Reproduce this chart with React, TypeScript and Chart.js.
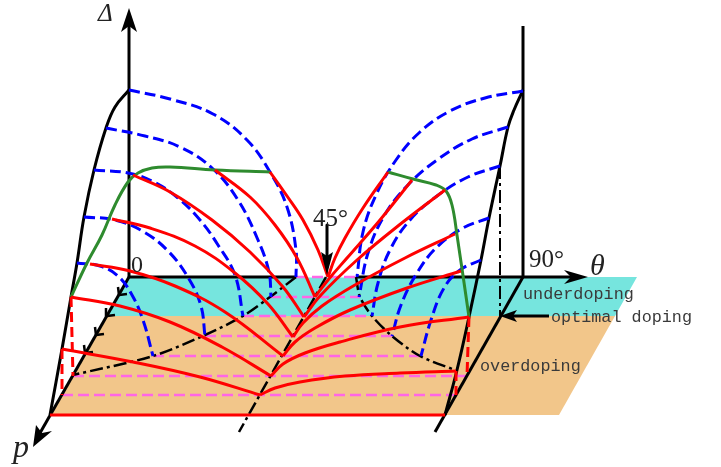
import React, { useEffect, useRef } from "react";
import { Chart, registerables } from "chart.js";

Chart.register(...registerables);

type P = [number, number];

const WIDTH = 721;
const HEIGHT = 467;

// Regions of the doping plane
const underdopingRegion: P[] = [[129, 277], [637, 277], [615, 316], [107, 316]];
const overdopingRegion: P[] = [[107, 316], [615, 316], [559, 415], [50, 415]];

// Axes
const deltaAxis: P[] = [[129, 277], [129, 26]];
const thetaAxisLeft: P[] = [[129, 277], [296, 277]];
const thetaAxisRight: P[] = [[356, 277], [572, 277]];
const thetaGapWhite: P[] = [[296, 276], [356, 276]];
const rightWall: P[] = [[523, 277], [523, 26]];
const pAxis: P[] = [[129, 277], [40, 433]];
const pAxisRight: P[] = [[523, 277], [435, 432]];
const arrow45: P[] = [[327, 225], [327, 258]];
const arrowOptimal: P[] = [[549, 316], [512, 316]];

// Arrow heads
const headDelta: P[] = [[129, 8], [137, 32], [129, 26], [121, 32]];
const headTheta: P[] = [[588, 277], [564, 284], [571, 277], [564, 270]];
const headP: P[] = [[33, 447], [36, 425], [42, 433], [52, 431]];
const head45: P[] = [[327, 275], [321, 252], [327, 256], [333, 252]];
const headOptimal: P[] = [[500, 316], [517, 310], [513, 316], [517, 322]];

// p-axis tick marks
const pTicks: P[][] = [
  [[127, 294], [119, 295], [118, 287]],
  [[115, 315], [107, 316], [106, 308]],
  [[104, 334], [96, 335], [95, 327]],
  [[93, 352], [85, 353], [84, 345]],
];

// Black envelope curves
const envelopeLeft: P[] = [[129, 90], [115, 107], [106, 128], [94, 170], [84, 217], [77, 263], [71, 297], [62, 349], [50, 415]];
const envelopeRight: P[] = [[523, 90], [514, 110], [508, 127], [500, 166], [489, 218], [481, 260], [469, 317], [457, 370], [445, 415]];

// Dash-dot guides
const guideCentre: P[] = [[326, 277], [239, 432]];
const guideLeft: P[] = [[296, 277], [270, 297], [243, 316], [205, 335], [153, 356], [73, 375]];
const guideRight: P[] = [[356, 277], [360, 297], [372, 316], [392, 336], [420, 356], [455, 370]];
const guideVertical: P[] = [[500, 166], [500, 316]];

// Magenta dashed lines
const magentaLines: P[][] = [
  [[296, 277], [356, 277]],
  [[270, 297], [360, 297]],
  [[243, 316], [372, 316]],
  [[205, 336], [392, 336]],
  [[153, 356], [420, 356]],
  [[73, 376], [467, 376]],
  [[62, 395], [456, 395]],
];

// Blue dashed arcs
const blueArcs: P[][] = [
  [[129, 90], [170, 99], [213, 114], [247, 140], [270, 172], [287, 207], [296, 250], [296, 277]],
  [[106, 128], [145, 136], [180, 147], [212, 168], [238, 200], [258, 240], [269, 272], [271, 297]],
  [[94, 170], [128, 173], [152, 181], [178, 198], [200, 220], [218, 245], [235, 275], [243, 316]],
  [[84, 217], [115, 220], [144, 232], [169, 252], [189, 279], [201, 306], [205, 336]],
  [[77, 263], [100, 266], [118, 276], [132, 295], [143, 320], [153, 356]],
  [[523, 91], [485, 98], [450, 111], [420, 132], [396, 160], [376, 195], [363, 232], [357, 277]],
  [[508, 127], [472, 139], [437, 160], [407, 186], [384, 216], [368, 253], [359, 297]],
  [[500, 166], [468, 177], [437, 196], [410, 220], [390, 250], [378, 283], [372, 316]],
  [[489, 218], [463, 228], [437, 247], [417, 273], [401, 305], [392, 336]],
  [[481, 260], [460, 270], [444, 288], [431, 320], [421, 356]],
];

// Red dashed verticals
const redDashed: P[][] = [
  [[71, 297], [73, 376]],
  [[62, 349], [62, 395]],
  [[469, 317], [467, 376]],
  [[456, 371], [456, 395]],
];

// Red gap curves
const floorLine: P[] = [[50, 415], [445, 415]];
const redCurves: P[][] = [
  [[62, 349], [133, 362], [200, 377], [260, 395]],
  [[260, 395], [275, 388], [300, 382], [345, 376], [400, 373], [456, 371]],
  [[71, 297], [120, 306], [170, 322], [222, 347], [271, 376]],
  [[271, 376], [283, 364], [305, 353], [340, 342], [400, 327], [469, 317]],
  [[90, 264], [130, 271], [175, 286], [225, 312], [283, 356]],
  [[283, 356], [295, 342], [315, 328], [350, 310], [407, 288], [461, 271]],
  [[112, 219], [150, 228], [195, 246], [235, 273], [268, 304], [293, 337]],
  [[293, 337], [303, 323], [322, 306], [355, 285], [405, 258], [455, 234]],
  [[133, 175], [170, 192], [212, 220], [250, 252], [283, 287], [304, 317]],
  [[304, 317], [320, 296], [357, 260], [403, 222], [445, 190]],
  [[215, 170], [250, 197], [275, 225], [297, 258], [315, 297]],
  [[315, 297], [328, 280], [347, 258], [380, 220], [412, 180]],
  [[270, 172], [287, 196], [303, 220], [318, 250], [328, 277]],
  [[328, 277], [335, 258], [345, 238], [363, 208], [388, 172]],
];

// Green gap envelope
const greenLeft: P[] = [[71, 297], [87, 263], [102, 235], [115, 205], [128, 182], [138, 173], [152, 168], [170, 167], [215, 170], [270, 172]];
const greenRight: P[] = [[388, 172], [413, 179], [436, 185], [446, 191], [452, 205], [457, 235], [469, 317]];

// Text labels
const serifLabels: [string, number, number, number, boolean][] = [
  ["Δ", 98, 21, 25, true],
  ["θ", 590, 275, 30, true],
  ["p", 13, 457, 32, true],
  ["0", 131, 272, 24, false],
  ["45°", 313, 226, 25, false],
  ["90°", 529, 267, 25, false],
];
const monoLabels: [string, number, number][] = [
  ["underdoping", 523, 299],
  ["optimal doping", 551, 322],
  ["overdoping", 480, 371],
];

const BLACK = "#000000";
const RED = "#ff0000";
const BLUE = "#0000ff";
const GREEN = "#2e8b2e";
const MAGENTA = "#ff66e6";
const CYAN = "#76e5de";
const ORANGE = "#f2c68a";

function line(pts: P[], color: string, width: number, dash: number[] = [], tension = 0) {
  return {
    data: pts.map(([x, y]) => ({ x, y })),
    showLine: true,
    borderColor: color,
    borderWidth: width,
    borderDash: dash,
    borderCapStyle: "butt",
    borderJoinStyle: "round",
    tension,
    pointRadius: 0,
    fill: false,
    clip: false,
  };
}

function region(pts: P[], color: string) {
  return {
    ...line([...pts, pts[0]], color, 0),
    backgroundColor: color,
    fill: "shape",
  };
}

const labelsPlugin = {
  id: "labels",
  afterDatasetsDraw(chart: any) {
    const ctx = chart.ctx;
    ctx.save();
    ctx.textBaseline = "alphabetic";
    ctx.textAlign = "left";
    ctx.fillStyle = "#222222";
    for (const [t, x, y, size, italic] of serifLabels) {
      ctx.font = `${italic ? "italic " : ""}${size}px "Liberation Serif"`;
      ctx.fillText(t, x, y);
    }
    ctx.fillStyle = "#3a3a3a";
    ctx.font = '16.8px "Liberation Mono"';
    for (const [t, x, y] of monoLabels) ctx.fillText(t, x, y);
    ctx.restore();
  },
};

export default function App() {
  const ref = useRef<HTMLCanvasElement>(null);
  useEffect(() => {
    const list: any[] = [
      region(underdopingRegion, CYAN),
      region(overdopingRegion, ORANGE),
      line(thetaGapWhite, "#ffffff", 3),
      ...magentaLines.map((p) => line(p, MAGENTA, 2.5, [11, 5])),
      line(guideCentre, BLACK, 2.5, [13, 4, 3, 4]),
      line(guideLeft, BLACK, 2.5, [13, 4, 3, 4], 0.3),
      line(guideRight, BLACK, 2.5, [13, 4, 3, 4], 0.3),
      line(guideVertical, BLACK, 2, [13, 4, 3, 4]),
      line(deltaAxis, BLACK, 3),
      line(thetaAxisLeft, BLACK, 3),
      line(thetaAxisRight, BLACK, 3),
      line(rightWall, BLACK, 3),
      line(pAxis, BLACK, 3),
      line(pAxisRight, BLACK, 3),
      line(arrow45, BLACK, 3),
      line(arrowOptimal, BLACK, 3),
      ...pTicks.map((p) => line(p, BLACK, 2.5)),
      line(envelopeLeft, BLACK, 3, [], 0.4),
      line(envelopeRight, BLACK, 3, [], 0.4),
      ...blueArcs.map((p) => line(p, BLUE, 3, [11, 5], 0.4)),
      ...redDashed.map((p) => line(p, RED, 3, [10, 5])),
      line(floorLine, RED, 3),
      line(greenLeft, GREEN, 3, [], 0.4),
      line(greenRight, GREEN, 3, [], 0.4),
      ...redCurves.map((p) => line(p, RED, 3, [], 0.4)),
      region(headDelta, BLACK),
      region(headTheta, BLACK),
      region(headP, BLACK),
      region(head45, BLACK),
      region(headOptimal, BLACK),
    ];
    const datasets = list.map((d, i) => ({ ...d, order: list.length - i }));
    const chart = new Chart(ref.current as HTMLCanvasElement, {
      type: "scatter",
      data: { datasets },
      options: {
        animation: false,
        responsive: false,
        layout: { padding: 0 },
        scales: {
          x: { type: "linear", display: false, min: 0, max: WIDTH },
          y: { type: "linear", display: false, min: 0, max: HEIGHT, reverse: true },
        },
        plugins: {
          legend: { display: false },
          tooltip: { enabled: false },
          filler: { drawTime: "beforeDatasetDraw" },
        },
      },
      plugins: [labelsPlugin],
    } as any);
    return () => chart.destroy();
  }, []);
  return (
    <canvas
      ref={ref}
      width={WIDTH}
      height={HEIGHT}
      style={{ position: "absolute", left: 0, top: 0, width: WIDTH, height: HEIGHT }}
    />
  );
}
